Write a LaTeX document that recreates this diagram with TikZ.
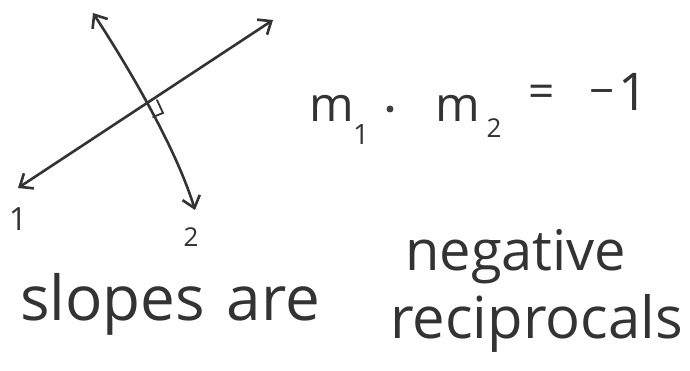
\documentclass[tikz,border=0pt]{standalone}
\usepackage{fontspec}
\setmainfont{Open Sans}
\usetikzlibrary{arrows.meta}
\begin{document}
\begin{tikzpicture}[x=1pt, y=-1pt]
    % Common Styles
    \tikzset{pen/.style={line width=2.6pt, color=black!80, line cap=round}}
    \tikzset{both/.style={pen, {Straight Barb[length=11pt, width=18pt]}-{Straight Barb[length=11pt, width=18pt]}}}
    \tikzset{hand/.style={inner sep=0pt, text=black!80, font=\fontsize{#1}{#1}\selectfont}}

    \useasboundingbox (0,0) rectangle (690,371);

    % The two lines
    \coordinate (L1a) at (18,188);
    \coordinate (L1b) at (273,20);
    \coordinate (L2a) at (93,13);
    \coordinate (L2b) at (195,210);
    \draw[both] (L1a) -- (L1b);
    \draw[both] (L2a) .. controls (125,62) and (175,145) .. (L2b);

    % Right angle mark
    \draw[pen, line width=1.8pt] (157,100) -- (163,113) -- (153,117);

    % Line labels
    \node[hand=32] (one) at (18,219) {1};
    \node[hand=26] (two) at (191,237) {2};

    % Product of slopes
    \node[hand=48, anchor=base west] (m1) at (309,122) {m};
    \node[hand=28] (s1) at (361,135) {1};
    \node[circle, fill=black!75, inner sep=0pt, minimum size=7pt] (dot) at (390,109) {};
    \node[hand=48, anchor=base west] (m2) at (435,122) {m};
    \node[hand=26] (s2) at (494,128) {2};
    \node[hand=46] (eq) at (542,96) {=};
    \node[hand=44] (minus) at (602,98) {−};
    \node[hand=52] (rhs) at (633,92) {1};

    % Words
    \node[hand=62, anchor=base west] (slopes) at (20,320) {slopes\hspace{0.35em}are};
    \node[hand=56, anchor=base west] (neg) at (405,270) {negative};
    \node[hand=58, anchor=base west] (recip) at (390,338) {reciprocals};
\end{tikzpicture}
\end{document}
